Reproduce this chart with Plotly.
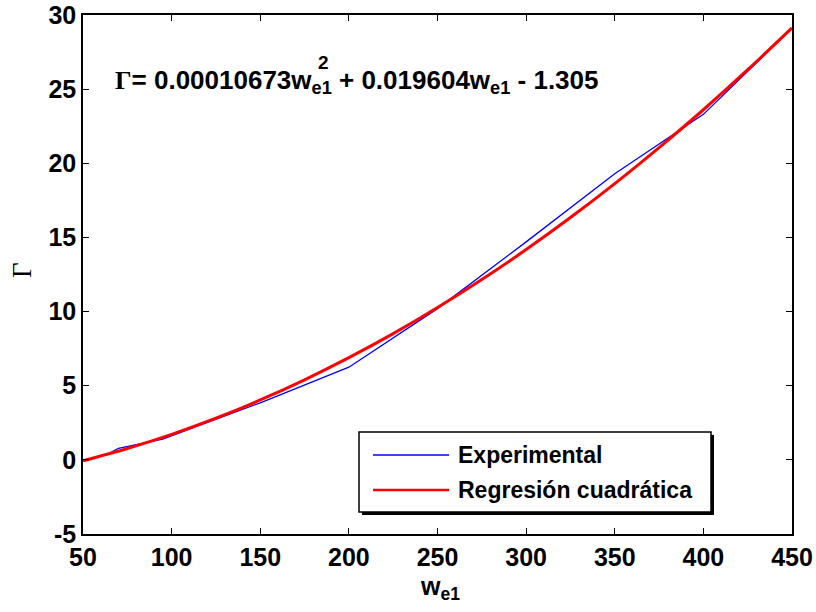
import plotly.graph_objects as go

# ---- data ----
x_exp = [65, 70, 95, 150, 200, 250, 300, 350, 400, 450]
y_exp = [0.45, 0.78, 1.4, 3.85, 6.25, 10.2, 14.7, 19.3, 23.3, 29.1]

x_fit = [50, 75, 100, 125, 150, 175, 200, 225, 250, 275, 300, 325, 350, 375, 400, 425, 450]
y_fit = [-0.06, 0.77, 1.72, 2.81, 4.04, 5.40, 6.89, 8.51, 10.27, 12.16, 14.18, 16.34, 18.63, 21.06, 23.61, 26.31, 29.13]

x_ticks = [50, 100, 150, 200, 250, 300, 350, 400, 450]
y_ticks = [-5, 0, 5, 10, 15, 20, 25, 30]

series_names = ["Experimental", "Regresión cuadrática"]
series_colors = ["#0000FF", "#FF0000"]

W, H = 816, 612
L, R, T, B = 83, 24, 15, 78
PW, PH = W - L - R, H - T - B


def px(xp):
    return (xp - L) / PW


def py(yp):
    return (H - B - yp) / PH


FONT = "Liberation Sans"
fig = go.Figure()
fig.add_trace(go.Scatter(x=x_exp, y=y_exp, mode="lines", name=series_names[0],
                         line=dict(color=series_colors[0], width=1.3), showlegend=False))
fig.add_trace(go.Scatter(x=x_fit, y=y_fit, mode="lines", name=series_names[1],
                         line=dict(color=series_colors[1], width=3, shape="spline"), showlegend=False))

axis_common = dict(showgrid=False, zeroline=False, showline=True, linecolor="black",
                   linewidth=1.5, mirror="ticks", ticks="inside", ticklen=6,
                   tickcolor="black", tickwidth=1, automargin=False,
                   tickfont=dict(family=FONT, size=25, color="black", weight="bold"))

fig.update_xaxes(range=[50, 450], tickvals=x_ticks, ticktext=[str(v) for v in x_ticks], **axis_common)
fig.update_yaxes(range=[-5, 30], tickvals=y_ticks, ticktext=[str(v) for v in y_ticks], **axis_common)

shapes = []
# legend box (shadow + box)
bx0, bx1, by0, by1 = 359, 711, 432, 512
shapes.append(dict(type="rect", xref="paper", yref="paper",
                   x0=px(bx0 + 3), x1=px(bx1 + 3), y0=py(by1 + 3), y1=py(by0 + 3),
                   line=dict(width=0), fillcolor="black", layer="above"))
shapes.append(dict(type="rect", xref="paper", yref="paper",
                   x0=px(bx0), x1=px(bx1), y0=py(by1), y1=py(by0),
                   line=dict(width=1.5, color="black"), fillcolor="white", layer="above"))
ly = [455, 490]
for i in range(2):
    shapes.append(dict(type="line", xref="paper", yref="paper",
                       x0=px(373), x1=px(449), y0=py(ly[i]), y1=py(ly[i]),
                       line=dict(color=series_colors[i], width=1.5 if i == 0 else 2.5), layer="above"))

annotations = []
for i in range(2):
    annotations.append(dict(text=series_names[i], xref="paper", yref="paper",
                            x=px(456), y=py(ly[i]), xanchor="left", yanchor="middle",
                            showarrow=False, font=dict(family=FONT, size=23, color="black", weight="bold")))

# equation: subscripts inline, superscript "2" stacked above the first subscript
EQ_SIZE = 26
eq = ('<span style="font-family:Liberation Serif">Γ</span>= 0.00010673w<sub>e1</sub>'
      ' + 0.019604w<sub>e1</sub> - 1.305')
annotations.append(dict(text=eq, xref="paper", yref="paper", x=px(113), y=py(82),
                        xanchor="left", yanchor="middle", showarrow=False,
                        font=dict(family=FONT, size=EQ_SIZE, color="black", weight="bold")))
annotations.append(dict(text="2", xref="paper", yref="paper", x=px(316), y=py(63),
                        xanchor="left", yanchor="middle", showarrow=False,
                        font=dict(family=FONT, size=19, color="black", weight="bold")))
annotations.append(dict(text="Γ", xref="paper", yref="paper", x=px(22), y=py(270),
                        xanchor="center", yanchor="middle", textangle=-90, showarrow=False,
                        font=dict(family="Liberation Serif", size=27, color="black")))
annotations.append(dict(text="w<sub>e1</sub>", xref="paper", yref="paper", x=px(440), y=py(588),
                        xanchor="center", yanchor="middle", showarrow=False,
                        font=dict(family=FONT, size=25, color="black", weight="bold")))

fig.update_layout(width=W, height=H, margin=dict(l=L, r=R, t=T, b=B),
                  plot_bgcolor="white", paper_bgcolor="white",
                  shapes=shapes, annotations=annotations, showlegend=False)

fig.write_html("out.html")
